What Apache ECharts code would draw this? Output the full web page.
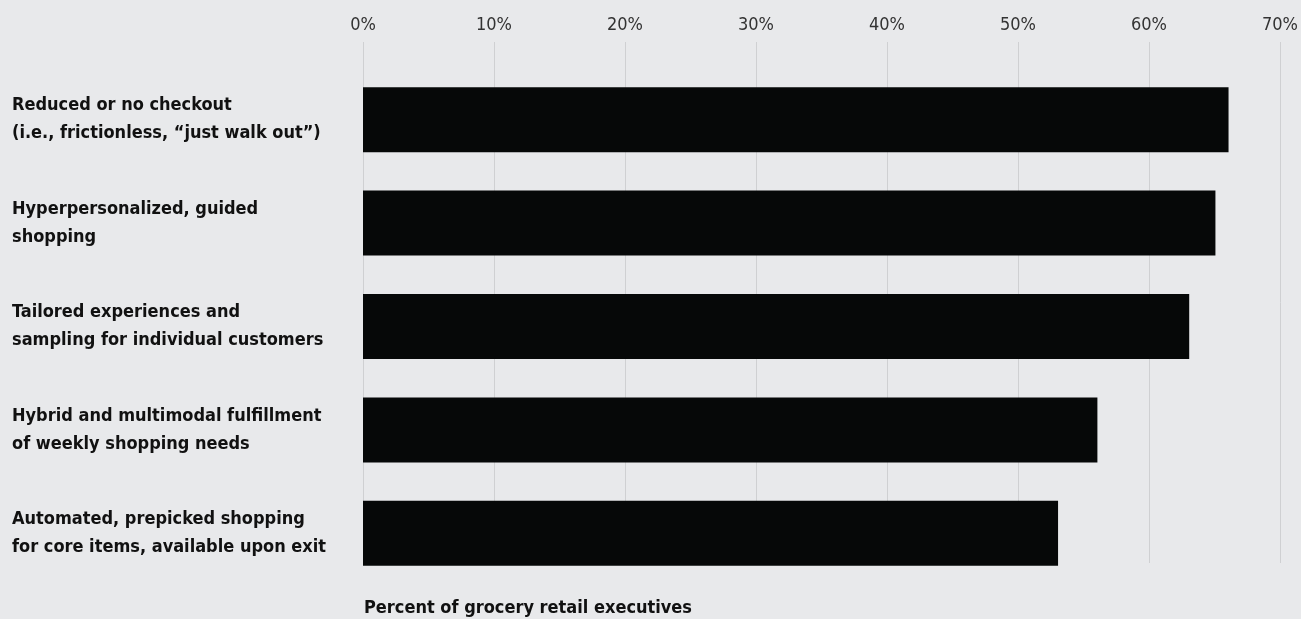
<!DOCTYPE html>
<html>
<head>
<meta charset="utf-8">
<script src="https://cdn.jsdelivr.net/npm/echarts@6/dist/echarts.min.js"></script>
<style>
  html, body { margin: 0; padding: 0; background: #e8e9eb; }
  #chart { width: 1301px; height: 619px; }
</style>
</head>
<body>
<div id="chart"></div>
<script>
const categories = [
  "Reduced or no checkout\n(i.e., frictionless, \u201cjust walk out\u201d)",
  "Hyperpersonalized, guided\nshopping",
  "Tailored experiences and\nsampling for individual customers",
  "Hybrid and multimodal fulfillment\nof weekly shopping needs",
  "Automated, prepicked shopping\nfor core items, available upon exit"
];
const values = [66, 65, 63, 56, 53];
const tickMax = 70;

const condensed = "'DejaVu Sans Condensed', 'Roboto Condensed', Roboto, sans-serif";

const chart = echarts.init(document.getElementById("chart"));
chart.setOption({
  backgroundColor: "#e8e9eb",
  animation: false,
  title: {
    text: "Percent of grocery retail executives",
    left: 359,
    top: 594,
    textStyle: {
      fontFamily: condensed,
      fontWeight: "bold",
      fontSize: 18,
      color: "#111"
    }
  },
  grid: [
    { left: 363, right: 20, top: 42, bottom: 56 },
    { left: 363, right: 20, top: 68, bottom: 34 }
  ],
  xAxis: [
    {
      gridIndex: 0,
      type: "value",
      position: "top",
      min: 0,
      max: tickMax,
      interval: 10,
      axisLine: { show: false },
      axisTick: { show: false },
      axisLabel: {
        formatter: "{value}%",
        fontFamily: condensed,
        fontSize: 18,
        color: "#333",
        margin: 8
      },
      splitLine: { show: true, lineStyle: { color: "#cfd0d2", width: 1 } }
    },
    {
      gridIndex: 1,
      type: "value",
      min: 0,
      max: tickMax,
      show: false
    }
  ],
  yAxis: [
    { gridIndex: 0, type: "category", data: categories, show: false },
    {
      gridIndex: 1,
      type: "category",
      data: categories,
      inverse: true,
      axisLine: { show: false },
      axisTick: { show: false },
      axisLabel: {
        align: "left",
        margin: 351,
        fontFamily: condensed,
        fontWeight: "bold",
        fontSize: 18,
        lineHeight: 28,
        color: "#111"
      }
    }
  ],
  series: [
    {
      type: "bar",
      xAxisIndex: 1,
      yAxisIndex: 1,
      data: values,
      barWidth: 65,
      itemStyle: { color: "#060808" }
    }
  ]
});
</script>
</body>
</html>
